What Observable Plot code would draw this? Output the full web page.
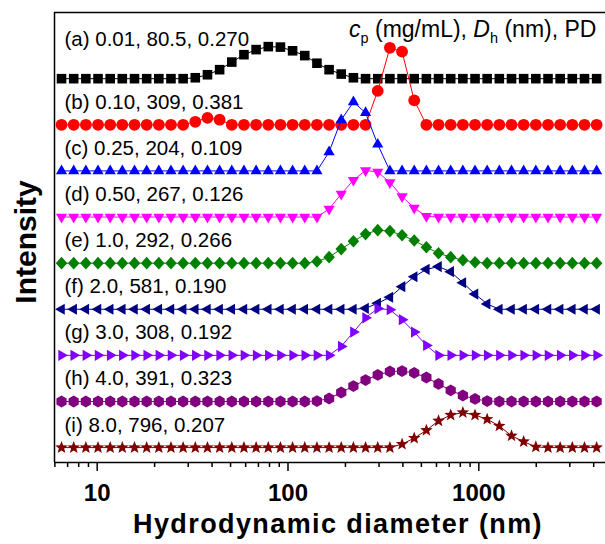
<!DOCTYPE html>
<html><head><meta charset="utf-8">
<script src="https://cdn.jsdelivr.net/npm/d3@7"></script>
<script src="https://cdn.jsdelivr.net/npm/@observablehq/plot@0.6"></script>
<style>html,body{margin:0;padding:0;background:#fff;}</style>
</head><body><div id="chart"></div>
<script>
// Hydrodynamic diameter bins (nm)
const sizes = [6.503,7.531,8.721,10.1,11.7,13.54,15.69,18.17,21.04,24.36,
  28.21,32.67,37.84,43.82,50.75,58.77,68.06,78.82,91.28,105.7,
  122.4,141.8,164.2,190.1,220.2,255.0,295.3,342.0,396.1,458.7,
  531.2,615.1,712.4,825.0,955.4,1106,1281,1484,1718,1990,
  2305,2669,3091,3580,4145];

// Intensity (%) per bin for each sample
const intA = [0,0,0,0,0,0,0,0,0,0, 0,0.4,1.7,3.9,7.2,10.4,12.6,13.9,13.7,12.1,
  10.0,6.7,3.9,2.0,0.4,0,0,0,0,0, 0,0,0,0,0,0,0,0,0,0, 0,0,0,0,0];
const intB = [0,0,0,0,0,0,0,0,0,0, 0,1.3,3.0,2.2,0,0,0,0,0,0,
  0,0,0,0,0,0,14.7,33.4,31.7,10.6, 0,0,0,0,0,0,0,0,0,0, 0,0,0,0,0];
const intC = [0,0,0,0,0,0,0,0,0,0, 0,0,0,0,0,0,0,0,0,0,
  0,0,8.2,22.1,29.9,25.2,11.5,0,0,0, 0,0,0,0,0,0,0,0,0,0, 0,0,0,0,0];
const intD = [0,0,0,0,0,0,0,0,0,0, 0,0,0,0,0,0,0,0,0,0,
  0,0,3.5,10.0,16.0,20.2,19.5,15.0,8.9,3.9, 0.3,0,0,0,0,0,0,0,0,0, 0,0,0,0,0];
const intE = [0,0,0,0,0,0,0,0,0,0, 0,0,0,0,0,0,0,0,0,0,
  0,0.7,2.6,6.1,9.5,12.6,14.3,13.9,12.1,9.8, 6.9,4.3,2.6,1.3,0.4,0,0,0,0,0, 0,0,0,0,0];
const intF = [0,0,0,0,0,0,0,0,0,0, 0,0,0,0,0,0,0,0,0,0,
  0,0,0,0,0,0.4,2.6,5.2,9.8,14.1, 17.3,18.5,16.3,11.5,6.6,2.3,0,0,0,0, 0,0,0,0,0];
const intG = [0,0,0,0,0,0,0,0,0,0, 0,0,0,0,0,0,0,0,0,0,
  0,0,0,3.9,10.1,16.3,20.3,19.8,15.5,10.1, 4.3,0,0,0,0,0,0,0,0,0, 0,0,0,0,0];
const intH = [0,0,0,0,0,0,0,0,0,0, 0,0,0,0,0,0,0,0,0,0,
  0,0.2,1.3,3.9,6.7,9.3,11.5,13.0,13.2,12.4, 10.4,7.6,4.8,2.6,1.1,0.2,0,0,0,0, 0,0,0,0,0];
const intI = [0,0,0,0,0,0,0,0,0,0, 0,0,0,0,0,0,0,0,0,0,
  0,0,0,0,0,0,0,0,1.5,4.1, 7.5,11.6,14.1,15.2,14.1,12.3,9.4,5.1,2.6,0.3, 0,0,0,0,0];

const labels = ["(a) 0.01, 80.5, 0.270","(b) 0.10, 309, 0.381","(c) 0.25, 204, 0.109",
  "(d) 0.50, 267, 0.126","(e) 1.0, 292, 0.266","(f) 2.0, 581, 0.190",
  "(g) 3.0, 308, 0.192","(h) 4.0, 391, 0.323","(i) 8.0, 796, 0.207"];
const offsets = [160,140,120,100,80,60,40,20,0];
const colors = ["#000000","#ff0000","#0000ff","#ff00ff","#008000","#000080","#8000ff","#800080","#800000"];
const tickValues = [10,100,1000];
const tickLabels = ["10","100","1000"];
const minorTicks = [6,7,8,9,20,30,40,50,60,70,80,90,200,300,400,500,600,700,800,900,2000,3000,4000];
const xLabel = "Hydrodynamic diameter (nm)";
const yLabel = "Intensity";

// marker shapes
function sym(fn){ return {draw(c, s){ const r = Math.sqrt(s/Math.PI); fn(c, r); }}; }
function poly(c, pts){ c.moveTo(pts[0][0],pts[0][1]); for (let k=1;k<pts.length;k++) c.lineTo(pts[k][0],pts[k][1]); c.closePath(); }
const S3 = Math.sqrt(3);
const symbols = [
  sym((c,r)=>c.rect(-r,-r,2*r,2*r)),
  sym((c,r)=>{c.moveTo(r,0); c.arc(0,0,r,0,2*Math.PI);}),
  sym((c,r)=>{const h=r*S3; poly(c,[[0,-2*h/3],[r,h/3],[-r,h/3]]);}),
  sym((c,r)=>{const h=r*S3; poly(c,[[0,2*h/3],[r,-h/3],[-r,-h/3]]);}),
  sym((c,r)=>poly(c,[[0,-r],[0.92*r,0],[0,r],[-0.92*r,0]])),
  sym((c,r)=>{const h=r*S3; poly(c,[[-2*h/3,0],[h/3,-r],[h/3,r]]);}),
  sym((c,r)=>{const h=r*S3; poly(c,[[2*h/3,0],[-h/3,-r],[-h/3,r]]);}),
  sym((c,r)=>{const p=[]; for(let k=0;k<6;k++){const a=Math.PI/180*(-90+60*k); p.push([r*Math.cos(a), r*Math.sin(a)]);} poly(c,p);}),
  sym((c,r)=>{const p=[]; for(let k=0;k<10;k++){const a=Math.PI/180*(-90+36*k); const rr = k%2? r*0.42 : r; p.push([rr*Math.cos(a), rr*Math.sin(a)]);} poly(c,p);})
];
const radii = [4.8,5.9,5.6,5.6,6.3,5.6,5.6,5.9,6.6];
const series = [intA,intB,intC,intD,intE,intF,intG,intH,intI];

const xDomain = [5.974, 4613];
const yDomain = [-6.46, 188.7];
const FONT = "'Liberation Sans', Arial, sans-serif";

const marks = [];
series.forEach((vals, j) => {
  const rows = sizes.map((d,k) => ({size: d, y: vals[k] + offsets[j]}));
  marks.push(Plot.line(rows, {x: "size", y: "y", stroke: colors[j], strokeWidth: 1}));
  marks.push(Plot.dot(rows, {x: "size", y: "y", fill: colors[j], stroke: "none", symbol: symbols[j], r: radii[j]}));
});

marks.push(Plot.text(labels, {filter: (d,i) => i === 0, frameAnchor: "left", y: (d,i) => offsets[i], dx: 10, dy: -33,
  textAnchor: "start", lineAnchor: "bottom", fontSize: 20.5, fill: "black"}));
marks.push(Plot.text(labels, {filter: (d,i) => i > 0, frameAnchor: "left", y: (d,i) => offsets[i], dx: 10, dy: -16,
  textAnchor: "start", lineAnchor: "bottom", fontSize: 20.5, fill: "black"}));

// frame lines
marks.push(Plot.ruleX([xDomain[0]], {y1: yDomain[0], y2: yDomain[1], stroke: "black", strokeWidth: 1.5}));
marks.push(Plot.ruleY([yDomain[0]], {stroke: "black", strokeWidth: 1.5}));
marks.push(Plot.ruleY([yDomain[1]], {stroke: "black", strokeWidth: 1.5}));
// minor ticks
marks.push(Plot.ruleX(minorTicks, {y1: yDomain[0], y2: yDomain[0], insetBottom: -5, stroke: "black", strokeWidth: 1.5}));
// major ticks
if (Plot.axisX) {
  marks.push(Plot.axisX(tickValues, {tickSize: 9, tickPadding: 12, tickFormat: d => tickLabels[tickValues.indexOf(d)],
    fontSize: 24, fontWeight: "bold", strokeWidth: 1.5, label: null, fill: "black", stroke: "black"}));
} else {
  marks.push(Plot.ruleX(tickValues, {y1: yDomain[0], y2: yDomain[0], insetBottom: -9, stroke: "black", strokeWidth: 1.5}));
  marks.push(Plot.text(tickValues, {x: d => d, y: yDomain[0], text: (d,i) => tickLabels[i], dy: 21, lineAnchor: "top", fontSize: 24, fontWeight: "bold"}));
}
marks.push(Plot.text([yLabel], {frameAnchor: "left", rotate: -90, dx: -19, dy: 4.5, lineAnchor: "bottom", textAnchor: "middle",
  fontSize: 30, fontWeight: "bold", fill: "black"}));
marks.push(Plot.text([xLabel], {frameAnchor: "bottom", dx: 8, dy: 70, lineAnchor: "bottom", textAnchor: "middle",
  fontSize: 27, fontWeight: "bold", fill: "black"}));

const plot = Plot.plot({
  width: 605, height: 544,
  marginLeft: 54, marginRight: 0, marginTop: 12, marginBottom: 82,
  x: {type: "log", domain: xDomain, axis: null},
  y: {domain: yDomain, axis: null},
  style: {fontFamily: FONT, background: "white", overflow: "visible"},
  marks
});

// widen the axis title slightly, as in the reference
d3.select(plot).selectAll("text").filter(function(){ return this.textContent === xLabel; })
  .attr("letter-spacing", "1.4px");

// header annotation
const hdr = d3.select(plot).append("text")
  .attr("x", 349).attr("y", 37).attr("text-anchor", "start")
  .attr("font-family", FONT)
  .attr("font-size", 23).attr("fill", "black");
hdr.append("tspan").attr("font-style", "italic").text("c");
hdr.append("tspan").attr("font-size", 14.5).attr("dy", 6).text("p");
hdr.append("tspan").attr("dy", -6).text(" (mg/mL), ");
hdr.append("tspan").attr("font-style", "italic").text("D");
hdr.append("tspan").attr("font-size", 14.5).attr("dy", 6).text("h");
hdr.append("tspan").attr("dy", -6).text(" (nm), PD");

document.getElementById("chart").appendChild(plot);
</script>
</body></html>
